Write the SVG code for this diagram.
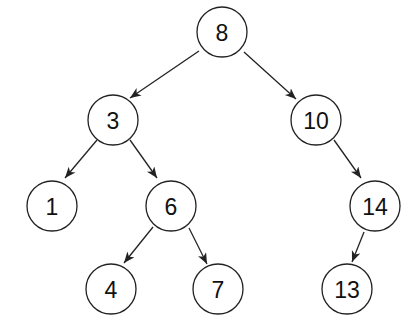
<svg xmlns="http://www.w3.org/2000/svg" width="409" height="326" viewBox="0 0 409 326">
<style>
.n circle{fill:#fff;stroke:#222;stroke-width:1.3}
.n text{font-family:"Liberation Sans",Arial,sans-serif;font-size:23px;fill:#111;text-anchor:middle;dominant-baseline:central}
#edges line{stroke:#222;stroke-width:1.3;marker-end:url(#ah)}
</style>
<defs>
<marker id="ah" markerUnits="userSpaceOnUse" markerWidth="12" markerHeight="10" refX="11" refY="4.5" orient="auto">
<path d="M0,0 L11,4.5 L0,9 L3,4.5 z" fill="#222"/>
</marker>
</defs>
<rect width="409" height="326" fill="#fff"/>
<g id="edges">
<line x1="199" y1="51" x2="130" y2="98"/>
<line x1="244" y1="52" x2="296" y2="99"/>
<line x1="97" y1="140" x2="65" y2="178"/>
<line x1="130" y1="140" x2="157" y2="178"/>
<line x1="334" y1="140" x2="361" y2="178"/>
<line x1="153" y1="227" x2="124" y2="263"/>
<line x1="189" y1="228" x2="207" y2="264"/>
<line x1="364" y1="232" x2="352" y2="262"/>
</g>
<g id="n8" class="n"><circle cx="222" cy="32" r="25"/><text x="222" y="33">8</text></g>
<g id="n3" class="n"><circle cx="113" cy="120" r="25"/><text x="113" y="121">3</text></g>
<g id="n10" class="n"><circle cx="316" cy="120" r="25"/><text x="316" y="121">10</text></g>
<g id="n1" class="n"><circle cx="52" cy="206" r="25"/><text x="52" y="207">1</text></g>
<g id="n6" class="n"><circle cx="171" cy="206" r="25"/><text x="171" y="207">6</text></g>
<g id="n14" class="n"><circle cx="375" cy="206" r="25"/><text x="375" y="207">14</text></g>
<g id="n4" class="n"><circle cx="111" cy="289" r="25"/><text x="111" y="290">4</text></g>
<g id="n7" class="n"><circle cx="218" cy="289" r="25"/><text x="218" y="290">7</text></g>
<g id="n13" class="n"><circle cx="347" cy="289" r="25"/><text x="347" y="290">13</text></g>
</svg>
